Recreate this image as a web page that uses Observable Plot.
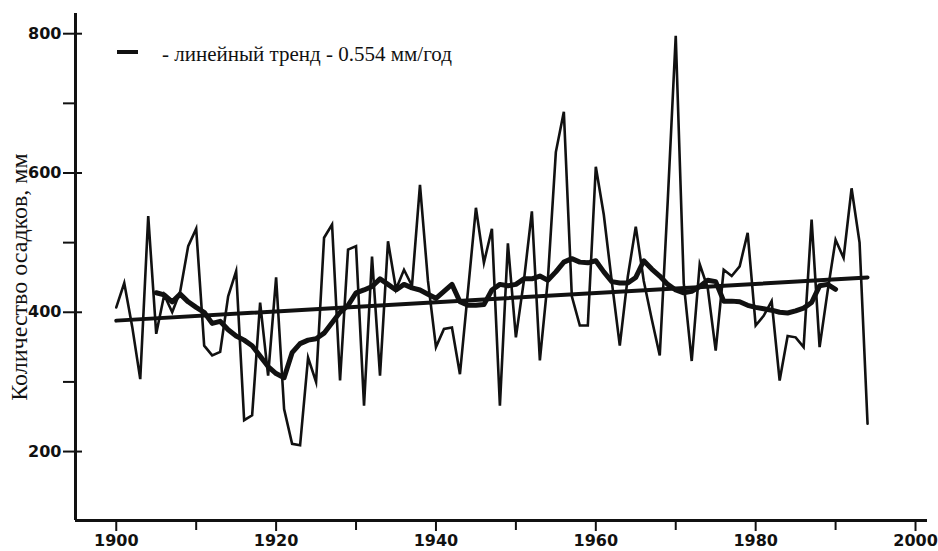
<!DOCTYPE html>
<html><head><meta charset="utf-8">
<script src="https://cdn.jsdelivr.net/npm/d3@7"></script>
<script src="https://cdn.jsdelivr.net/npm/@observablehq/plot@0.6"></script>
<style>
body{margin:0;background:#fff;}
#chart{width:938px;height:551px;overflow:hidden;}
</style></head><body><div id="chart"></div>
<script>
// Annual precipitation, mm, 1900–1994
const startYear = 1900;
const precip = [
  407, 442, 379, 304, 538, 369, 425, 400, 430, 495,
  520, 352, 338, 343, 423, 459, 245, 252, 414, 309,
  450, 261, 211, 209, 335, 300, 507, 526, 302, 490,
  495, 266, 480, 309, 502, 433, 461, 438, 583, 445,
  350, 376, 378, 311, 430, 550, 471, 520, 266, 499,
  364, 445, 545, 331, 447, 630, 688, 423, 381, 381,
  609, 540, 444, 352, 451, 523, 445, 390, 338, 560,
  797, 442, 330, 469, 435, 345, 461, 452, 466, 514,
  381, 395, 416, 302, 366, 364, 350, 533, 350, 430,
  504, 478, 578, 500, 240
];
// Smoothed (running mean) curve, 1905–1990
const maStart = 1905;
const movingAvg = [
  428, 425, 415, 426, 415,
  407, 400, 384, 387, 375, 366, 360, 352, 337, 322,
  312, 306, 342, 355, 360, 362, 370, 385, 400, 410,
  428, 432, 437, 448, 440, 432, 440, 435, 432, 426,
  420, 430, 440, 415, 410, 410, 411, 432, 440, 438,
  440, 448, 448, 452, 446, 458, 472, 477, 472, 471,
  474, 458, 444, 442, 442, 450, 474, 462, 452, 440,
  432, 428, 430, 437, 446, 444, 416, 416, 415, 410,
  407, 405, 403, 400, 399, 402, 406, 414, 438, 440,
  433
];
// Linear trend end points
const trendYears = [1900, 1994];
const trendValues = [388, 450];

const xTicksMajor = [1900, 1920, 1940, 1960, 1980, 2000];
const xTicksMinor = [1910, 1930, 1950, 1970, 1990];
const yTicksMajor = [200, 400, 600, 800];
const yTicksMinor = [300, 500, 700];
const yLabel = "Количество осадков, мм";
const legendText = "- линейный тренд - 0.554 мм/год";

const annual = precip.map((v, i) => ({year: startYear + i, value: v}));
const smooth = movingAvg.map((v, i) => ({year: maStart + i, value: v}));
const trend = trendYears.map((y, i) => ({year: y, value: trendValues[i]}));

const xDomain = [1894.9, 2001.5];
const yDomain = [101, 829];
const ink = "#111";
const serif = "Liberation Serif, Times New Roman, serif";

const legendMark = (index, scales, values, dims) => {
  const g = d3.create("svg:g");
  const x0 = dims.marginLeft;
  g.append("line")
    .attr("x1", x0 + 42).attr("x2", x0 + 63)
    .attr("y1", 52).attr("y2", 52)
    .attr("stroke", ink).attr("stroke-width", 4);
  g.append("text")
    .attr("x", x0 + 87).attr("y", 61)
    .attr("text-anchor", "start")
    .attr("font-family", serif)
    .attr("font-size", 21)
    .attr("fill", ink)
    .text(legendText);
  return g.node();
};

const chart = Plot.plot({
  width: 938, height: 551,
  marginLeft: 75, marginRight: 11, marginTop: 13, marginBottom: 31,
  x: {domain: xDomain, label: null},
  y: {domain: yDomain, label: null},
  style: {background: "#fff", color: ink, overflow: "visible"},
  marks: [
    Plot.line(annual, {x: "year", y: "value", stroke: ink, strokeWidth: 2.6, strokeLinejoin: "miter", strokeMiterlimit: 6}),
    Plot.line(trend, {x: "year", y: "value", stroke: ink, strokeWidth: 4}),
    Plot.line(smooth, {x: "year", y: "value", stroke: ink, strokeWidth: 5}),
    Plot.ruleX([xDomain[0]], {stroke: ink, strokeWidth: 3}),
    Plot.ruleY([yDomain[0]], {stroke: ink, strokeWidth: 3}),
    Plot.axisX({ticks: xTicksMajor, tickSize: 11, tickPadding: 3, tickFormat: d => String(d),
      fontSize: 16, fontWeight: "bold", fontFamily: "DejaVu Sans", stroke: ink, fill: ink, strokeWidth: 2, label: null}),
    Plot.axisX({ticks: xTicksMinor, tickSize: 10, tickFormat: () => "", stroke: ink, strokeWidth: 2, label: null}),
    Plot.axisY({ticks: yTicksMajor, tickSize: 12, tickPadding: 2, tickFormat: d => String(d),
      fontSize: 16, fontWeight: "bold", fontFamily: "DejaVu Sans", stroke: ink, fill: ink, strokeWidth: 2, label: null}),
    Plot.axisY({ticks: yTicksMinor, tickSize: 12, tickFormat: () => "", stroke: ink, strokeWidth: 2, label: null}),
    Plot.ruleY(yTicksMajor, {x1: xDomain[0], x2: xDomain[0] + 7 * (xDomain[1] - xDomain[0]) / 852, stroke: ink, strokeWidth: 2}),
    Plot.text([yLabel], {frameAnchor: "left", textAnchor: "middle", lineAnchor: "middle", rotate: -90, dx: -56, dy: 10,
      fontFamily: serif, fontSize: 24, fill: ink}),
    legendMark
  ]
});
document.getElementById("chart").appendChild(chart);
</script></body></html>
